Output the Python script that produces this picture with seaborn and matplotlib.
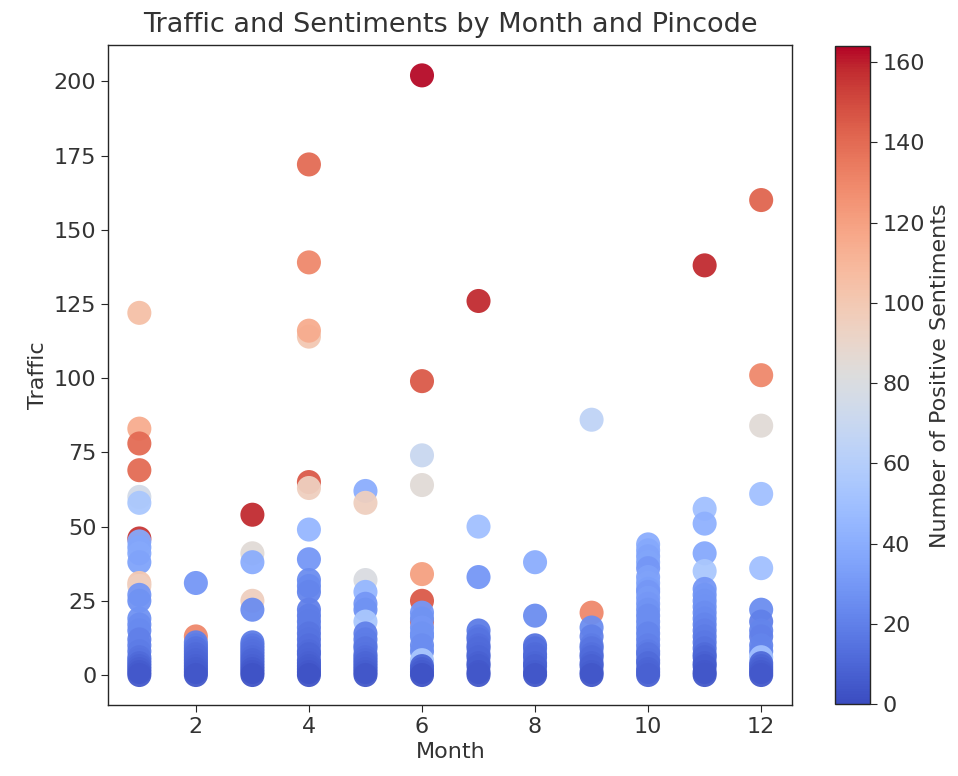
import numpy as np
import pandas as pd
import matplotlib
matplotlib.use("Agg")
import matplotlib.pyplot as plt
import seaborn as sns

# Traffic and positive-sentiment values per month
m1_traffic = [46, 60, 122, 83, 78, 69, 58, 45, 43, 41, 38, 31, 30, 27, 25, 19, 17, 15, 12, 10, 8, 6, 5, 4, 3, 2, 1, 0]
m1_pos     = [155, 75, 105, 115, 140, 140, 55, 38, 36, 38, 35, 100, 95, 30, 28, 28, 25, 24, 20, 20, 18, 16, 15, 12, 10, 8, 6, 5]
m2_traffic = [31, 13, 11, 10, 9, 8, 7, 6, 5, 4, 3, 2, 1, 0]
m2_pos     = [30, 130, 20, 18, 15, 14, 12, 11, 10, 9, 8, 7, 6, 4]
m3_traffic = [54, 41, 38, 25, 22, 11, 10, 9, 8, 7, 6, 5, 4, 3, 2, 1, 0]
m3_pos     = [158, 85, 40, 95, 25, 18, 17, 15, 14, 13, 12, 10, 9, 8, 6, 5, 3]
m4_traffic = [172, 139, 114, 116, 65, 63, 49, 39, 32, 30, 28, 22, 20, 18, 16, 14, 12, 10, 8, 7, 5, 4, 3, 2, 1, 0]
m4_pos     = [140, 130, 100, 115, 145, 95, 45, 30, 25, 24, 22, 20, 19, 18, 18, 16, 15, 13, 12, 10, 9, 8, 7, 6, 5, 3]
m5_traffic = [62, 58, 32, 28, 24, 22, 18, 14, 12, 10, 9, 7, 6, 5, 4, 3, 2, 1, 0]
m5_pos     = [40, 95, 80, 45, 30, 28, 55, 20, 19, 18, 16, 15, 13, 12, 10, 9, 8, 7, 4]
m6_traffic = [202, 99, 74, 64, 34, 25, 18, 21, 19, 16, 14, 13, 10, 8, 5, 3, 2, 1, 0]
m6_pos     = [163, 145, 70, 85, 120, 145, 140, 30, 28, 30, 28, 28, 25, 25, 55, 10, 8, 6, 3]
m7_traffic = [126, 50, 33, 15, 13, 12, 10, 9, 7, 6, 4, 3, 1, 0]
m7_pos     = [158, 50, 30, 18, 17, 15, 13, 12, 11, 10, 8, 7, 5, 4]
m8_traffic = [38, 20, 10, 9, 7, 6, 4, 3, 1, 0]
m8_pos     = [40, 25, 15, 14, 12, 11, 10, 8, 7, 4]
m9_traffic = [86, 21, 16, 13, 10, 9, 7, 6, 4, 3, 1, 0]
m9_pos     = [65, 130, 25, 20, 18, 16, 14, 12, 10, 8, 7, 4]
m10_traffic = [44, 42, 40, 38, 36, 33, 31, 29, 28, 26, 24, 22, 20, 18, 16, 14, 12, 10, 8, 7, 5, 4, 2, 1, 0]
m10_pos     = [40, 38, 35, 36, 30, 34, 35, 33, 30, 32, 30, 28, 25, 25, 25, 22, 22, 20, 18, 16, 15, 12, 10, 9, 8]
m11_traffic = [138, 56, 51, 41, 35, 29, 27, 25, 23, 21, 19, 17, 15, 13, 11, 9, 7, 6, 4, 3, 1, 0]
m11_pos     = [158, 50, 42, 38, 55, 30, 29, 28, 27, 25, 24, 22, 20, 18, 17, 15, 12, 10, 8, 6, 5, 4]
m12_traffic = [160, 101, 84, 61, 36, 22, 18, 15, 13, 10, 8, 6, 4, 3, 2, 1, 0]
m12_pos     = [142, 130, 85, 50, 50, 25, 20, 22, 20, 22, 22, 50, 12, 10, 8, 6, 5]

traffic_by_month = [m1_traffic, m2_traffic, m3_traffic, m4_traffic, m5_traffic, m6_traffic,
                    m7_traffic, m8_traffic, m9_traffic, m10_traffic, m11_traffic, m12_traffic]
pos_by_month = [m1_pos, m2_pos, m3_pos, m4_pos, m5_pos, m6_pos,
                m7_pos, m8_pos, m9_pos, m10_pos, m11_pos, m12_pos]

rows = []
for i, (tr, ps) in enumerate(zip(traffic_by_month, pos_by_month)):
    for t, p in zip(tr, ps):
        rows.append((i + 1, t, p))
df = pd.DataFrame(rows, columns=["Month", "Traffic", "Positive"])

vmin, vmax = 0, 164

sns.set_style("ticks")
plt.rcParams['font.family'] = ['DejaVu Sans']

fig = plt.figure(figsize=(9.58, 7.76), dpi=100)
ax = fig.add_axes([0.113, 0.0915, 0.714, 0.850])
cax = fig.add_axes([0.872, 0.0925, 0.0365, 0.848])

sns.scatterplot(data=df, x="Month", y="Traffic", hue="Positive",
                palette="coolwarm", hue_norm=(vmin, vmax), s=300,
                edgecolor="none", alpha=0.95, legend=False, ax=ax)

sm = plt.cm.ScalarMappable(cmap="coolwarm", norm=plt.Normalize(vmin, vmax))
sm.set_array([])
cb = fig.colorbar(sm, cax=cax)
cb.set_label("Number of Positive Sentiments", fontsize=16, color="#333333")
cb.ax.tick_params(labelsize=16, labelcolor="#333333", length=5)
cb.outline.set_linewidth(1.0)

ax.set_title("Traffic and Sentiments by Month and Pincode", fontsize=19.5, pad=10, color="#333333")
ax.set_xlabel("Month", fontsize=16, color="#333333")
ax.set_ylabel("Traffic", fontsize=16, color="#333333")
ax.tick_params(labelsize=16, labelcolor="#333333", length=5)
ax.set_xticks([2, 4, 6, 8, 10, 12])
ax.set_yticks([0, 25, 50, 75, 100, 125, 150, 175, 200])
for sp in ax.spines.values():
    sp.set_visible(True)
    sp.set_linewidth(1.0)

fig.savefig("out.png", dpi=100)
